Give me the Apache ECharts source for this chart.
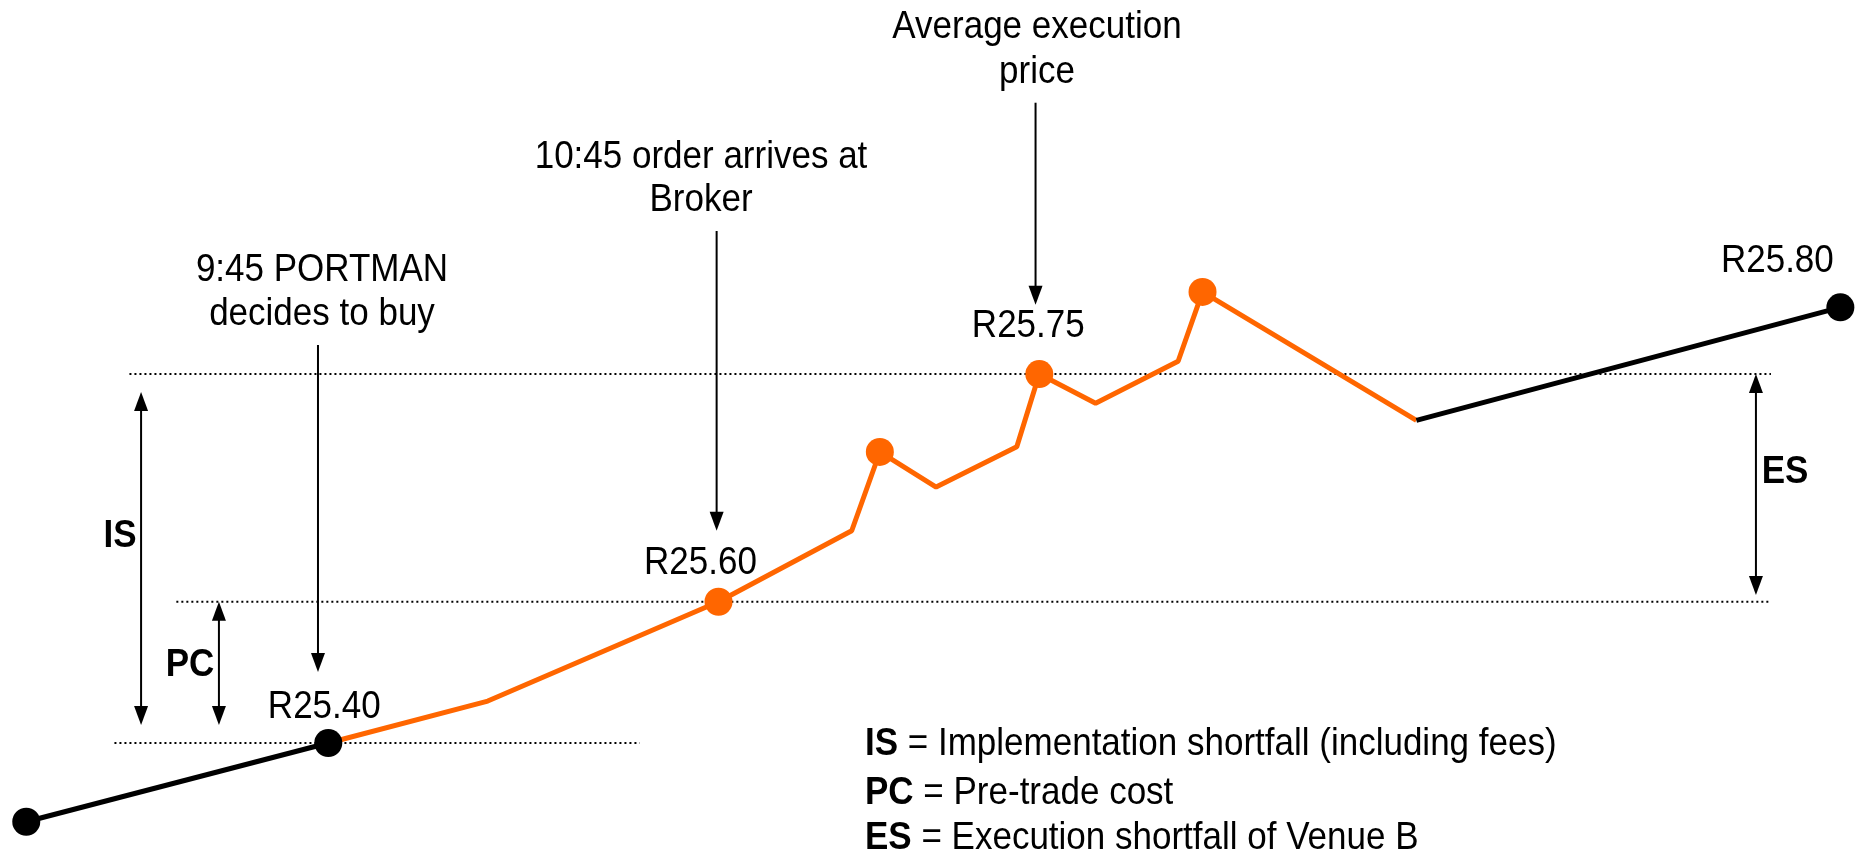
<!DOCTYPE html>
<html><head><meta charset="utf-8">
<script src="https://cdn.jsdelivr.net/npm/echarts@6/dist/echarts.min.js"></script>
<style>html,body{margin:0;padding:0;background:#fff}#c{width:1876px;height:856px}</style>
</head><body><div id="c"></div>
<script>
// ---- data (x: time units, y: price-level units) ----
const beforeOrder = [[1.4, 4.0], [17.5, 13.2]];
const execution = [[17.5, 13.2], [26.0, 18.1], [38.3, 29.7], [45.4, 38.0], [46.9, 47.2], [49.9, 43.1],
                   [54.2, 47.8], [55.4, 56.3], [58.4, 52.9], [62.8, 57.8], [64.1, 65.9], [75.5, 50.9]];
const afterExec = [[75.5, 50.9], [98.1, 64.1]];
const fillPoints = [[38.3, 29.7], [46.9, 47.2], [55.4, 56.3], [64.1, 65.9]];
const keyPoints = [[1.4, 4.0], [17.5, 13.2], [98.1, 64.1]];
const priceLabels = ['R25.40', 'R25.60', 'R25.75', 'R25.80'];
const priceLabelAt = [[17.5, 13.2], [38.3, 29.7], [55.4, 56.3], [98.1, 64.1]];
const annotationTexts = [['9:45 PORTMAN', 'decides to buy'], ['10:45 order arrives at', 'Broker'], ['Average execution', 'price']];
const legendLines = [['IS', 'Implementation shortfall (including fees)'], ['PC', 'Pre-trade cost'], ['ES', 'Execution shortfall of Venue B']];
const spanLabels = ['IS', 'PC', 'ES'];

const levelPre = beforeOrder[1][1];
const levelArrival = execution[2][1];
const levelAvg = execution[7][1];

// reference lines [xStart, xEnd, level]
const dottedLines = [[6.9, 94.4, levelAvg], [9.4, 94.4, levelArrival], [6.1, 34.1, levelPre]];
// single arrows [x, yTop, yTip]
const downArrows = [[16.95, 59.7, 21.5], [38.2, 73.0, 38.0], [55.2, 88.0, 64.4]];
// double arrows [x, yLow, yHigh]
const spanArrows = [[7.52, 15.3, 54.2], [11.67, 15.3, levelArrival], [93.6, 30.5, levelAvg]];

const FONT = '"Liberation Sans", Arial, sans-serif';
const ORANGE = '#FF6600';
const SY = 1.1;
const chart = echarts.init(document.getElementById('c'), null, {renderer: 'canvas'});

chart.setOption({
  animation: false,
  backgroundColor: '#fff',
  grid: {left: 0, right: 0, top: 0, bottom: 0},
  xAxis: {type: 'value', min: 0, max: 100, show: false},
  yAxis: {type: 'value', min: 0, max: 100, show: false},
  series: [
    {type: 'line', data: beforeOrder, symbol: 'none', lineStyle: {color: '#000', width: 5}, z: 3},
    {type: 'line', data: execution, symbol: 'none', lineStyle: {color: ORANGE, width: 5}, z: 2},
    {type: 'line', data: afterExec, symbol: 'none', lineStyle: {color: '#000', width: 5}, z: 3},
    {type: 'scatter', symbolSize: 28, itemStyle: {color: ORANGE, opacity: 1}, z: 4, data: fillPoints},
    {type: 'scatter', symbolSize: 28, itemStyle: {color: '#000', opacity: 1}, z: 5, data: keyPoints}
  ]
});

const px = (p) => chart.convertToPixel({gridIndex: 0}, p);
const g = [];
const AW = 14, AL = 19;
function head(x, y, dir) { // dir: 1 pointing down, -1 pointing up
  g.push({type: 'polygon', shape: {points: [[x, y], [x - AW / 2, y - dir * AL], [x + AW / 2, y - dir * AL]]},
    style: {fill: '#000'}, z: 10});
}
dottedLines.forEach(([x0, x1, lv]) => {
  const a = px([x0, lv]), b = px([x1, lv]);
  g.push({type: 'line', shape: {x1: a[0], y1: a[1], x2: b[0], y2: b[1]},
    style: {stroke: '#000', lineWidth: 2, lineDash: [2, 3]}, z: 1});
});
downArrows.forEach(([x, y0, y1]) => {
  const a = px([x, y0]), b = px([x, y1]);
  g.push({type: 'line', shape: {x1: a[0], y1: a[1], x2: b[0], y2: b[1] - AL + 2}, style: {stroke: '#000', lineWidth: 2}, z: 10});
  head(b[0], b[1], 1);
});
spanArrows.forEach(([x, y0, y1]) => {
  const a = px([x, y0]), b = px([x, y1]);
  g.push({type: 'line', shape: {x1: a[0], y1: a[1] - AL + 2, x2: b[0], y2: b[1] + AL - 2}, style: {stroke: '#000', lineWidth: 2}, z: 10});
  head(a[0], a[1], 1);
  head(b[0], b[1], -1);
});
const text = (t, x, y, opts) => g.push({type: 'text', x: x, y: y, scaleY: SY, z: 12,
  style: Object.assign({text: t, font: '35px ' + FONT, fill: '#000', align: 'center', verticalAlign: 'middle',
    textAlign: 'center', textVerticalAlign: 'middle'}, opts || {})});
// price labels placed relative to their points
const priceOffsets = [[-4, -36], [-18, -38], [-11, -48], [-63, -46]];
priceLabels.forEach((t, i) => {
  const p = px(priceLabelAt[i]);
  text(t, p[0] + priceOffsets[i][0], p[1] + priceOffsets[i][1]);
});
// annotation texts (centers in px)
const annPos = [[322, 270, 314], [701, 157, 200], [1037, 27, 72]];
annotationTexts.forEach((lines, i) => {
  text(lines[0], annPos[i][0], annPos[i][1]);
  text(lines[1], annPos[i][0], annPos[i][2]);
});
const spanPos = [[120, 536], [190, 665], [1785, 472]];
spanLabels.forEach((t, i) => text(t, spanPos[i][0], spanPos[i][1], {font: 'bold 35px ' + FONT}));
const legY = [744, 793, 838];
legendLines.forEach(([k, v], i) => {
  g.push({type: 'text', x: 865, y: legY[i], scaleY: SY, z: 12,
    style: {text: '{b|' + k + '}{n| = ' + v + '}', align: 'left', verticalAlign: 'middle',
      textAlign: 'left', textVerticalAlign: 'middle',
      rich: {b: {fontWeight: 'bold', fontSize: 35, fontFamily: FONT, fill: '#000', color: '#000'},
             n: {fontSize: 35, fontFamily: FONT, fill: '#000', color: '#000'}}}});
});
chart.setOption({graphic: {elements: g}});
</script></body></html>
